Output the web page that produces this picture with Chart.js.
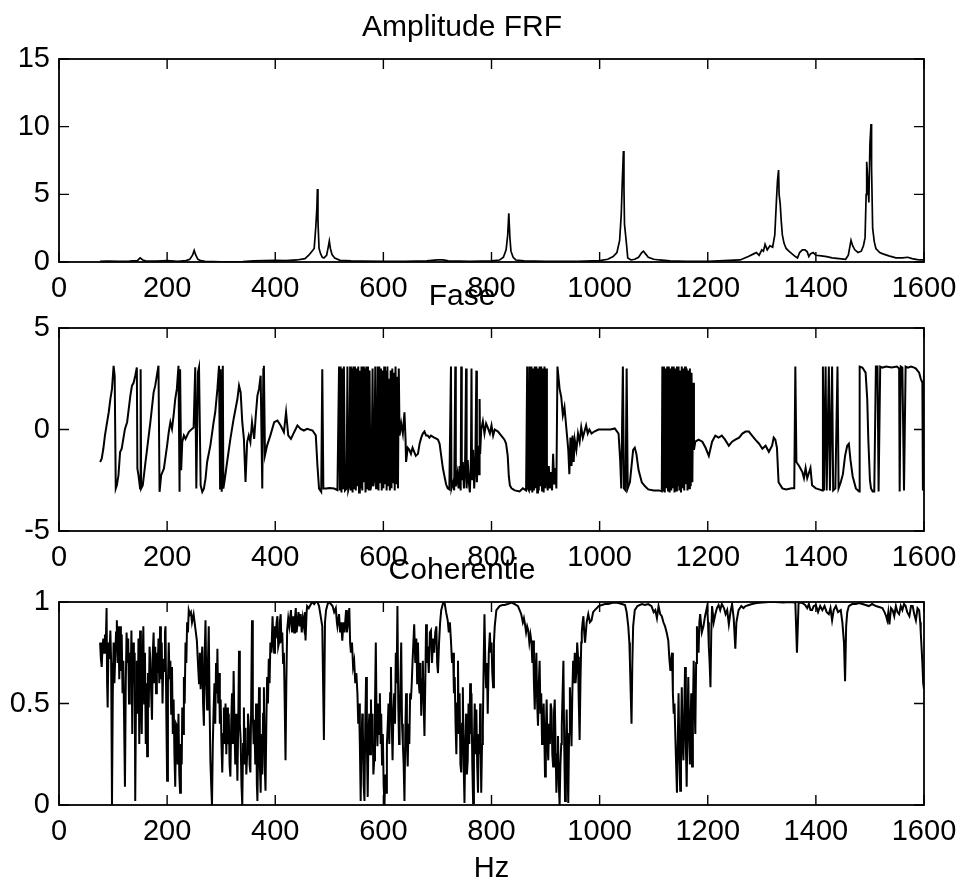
<!DOCTYPE html>
<html><head><meta charset="utf-8">
<script src="https://cdn.jsdelivr.net/npm/chart.js@4/dist/chart.umd.min.js"></script>
<style>
html,body{margin:0;padding:0;background:#fff;}
#wrap{position:relative;width:962px;height:880px;overflow:hidden;background:#fff;}
canvas{position:absolute;left:0;}
</style></head><body>
<div id="wrap">
<canvas id="c1" width="962" height="300" style="top:0px"></canvas>
<canvas id="c2" width="962" height="300" style="top:269px"></canvas>
<canvas id="c3" width="962" height="345" style="top:543px"></canvas>
</div>
<script>
const titles = ['Amplitude FRF', 'Fase', 'Coherentie'];
const xLabel = 'Hz';
const xTickValues = [0, 200, 400, 600, 800, 1000, 1200, 1400, 1600];
const ampYTicks = [0, 5, 10, 15];
const phaseYTicks = [-5, 0, 5];
const cohYTicks = [0, 0.5, 1];

const ampHz = [
76,90,110,130,145,150,155,160,180,200,
220,235,242,247,250,253,257,262,270,300,
340,360,380,400,420,440,455,462,468,472,
475,477,478,479,481,484,487,490,495,498,
500,502,505,510,520,540,560,600,640,680,
700,710,720,760,800,815,822,827,830,832,
834,836,840,845,860,900,960,1000,1015,1025,
1032,1037,1040,1042,1044,1045,1046,1048,1050,1052,
1058,1065,1072,1078,1081,1085,1090,1100,1110,1130,
1160,1200,1230,1260,1275,1285,1290,1295,1300,1303,
1306,1310,1315,1320,1324,1327,1329,1331,1332,1334,
1336,1338,1341,1345,1350,1356,1362,1366,1370,1375,
1380,1384,1387,1390,1395,1400,1410,1420,1430,1443,
1455,1460,1465,1468,1472,1478,1484,1488,1491,1493,
1494,1496,1498,1500,1502,1503,1505,1508,1511,1518,
1524,1535,1548,1560,1570,1578,1585,1592,1600];
const ampVal = [
0.05,0.06,0.05,0.07,0.1,0.3,0.15,0.08,0.06,0.1,
0.05,0.1,0.2,0.5,0.86,0.5,0.2,0.1,0.05,0.02,
0.03,0.08,0.1,0.12,0.1,0.15,0.25,0.5,0.8,1.0,
2.6,4.0,5.4,3.0,1.0,0.6,0.35,0.3,0.5,1.1,
1.55,1.0,0.55,0.3,0.12,0.08,0.06,0.05,0.05,0.08,
0.15,0.15,0.08,0.05,0.08,0.15,0.35,0.9,2.0,3.6,
1.8,0.8,0.35,0.15,0.08,0.05,0.05,0.1,0.2,0.4,
0.7,1.6,3.5,6.0,8.2,5.5,2.8,2.0,1.2,0.3,
0.15,0.2,0.35,0.7,0.8,0.6,0.35,0.2,0.15,0.08,
0.05,0.05,0.1,0.15,0.4,0.6,0.7,0.5,0.9,0.8,
1.3,0.9,1.2,1.1,2.0,4.5,6.0,6.8,5.0,4.3,
3.0,2.0,1.4,1.0,0.8,0.6,0.4,0.3,0.7,0.9,
0.9,0.75,0.4,0.6,0.7,0.5,0.45,0.4,0.3,0.25,
0.2,0.5,1.6,1.2,0.9,0.7,0.8,1.2,1.8,5.0,
7.4,6.0,4.4,8.7,10.2,7.0,2.5,1.5,1.0,0.7,
0.6,0.45,0.3,0.3,0.35,0.25,0.2,0.15,0.15];

const phaseHz = [
76,79,82,85,88,92,95,98,101,103,
105,107,110,113,116,122,126,132,135,138,
141,144,145,147,150,151,152,155,160,163,
169,175,178,181,184,186,189,194,200,203,
206,209,212,215,218,221,223,224,226,228,
231,234,240,246,249,252,254,257,259,262,
265,268,271,274,280,286,289,293,296,298,
299,301,303,304,306,311,317,323,330,333,
336,339,342,345,348,351,354,357,361,364,
367,370,373,376,378,379,381,385,391,398,
404,410,416,420,424,429,435,441,447,453,
459,469,475,478,481,485,487,489,494,500,
509,515,518,519.5,521,522.5,524,525.5,527,529,
532,533.5,535,537,538.5,540,541.5,543,544.5,546,
547.5,549,550.5,552,553.5,555,556.5,558,559.5,561,
562.5,564,565.5,567,568.5,570,571.5,573,574.5,576,
578,580,581.5,583,585,586.5,588,589.5,591,592.5,
594,595.5,597,598.5,600,601.5,603,604.5,606,607.5,
609,610.5,612,613.5,615,616.5,618,619.5,621,622.5,
624,625.5,627,628.5,630,633,636,639,641,642,
645,648,651,654,657,660,664,667,670,673,
676,679,682,685,688,694,698,701,704,707,
710,713,716,719,722,725,726,729,731,733,
734,737,739,741,743,744,745,747,749,751,
753,754,756,758,760,762,763,764,766,768,
770,772,773,775,777,778,779,781,784,787,
790,793,797,800,803,806,812,818,824,827,
830,832,834,837,843,852,858,864,866,867,
869,871,872.5,874,875.5,877,878.5,880,881.5,883,
884.5,886,887.5,889,890.5,892,893.5,895,896.5,898,
899.5,901,902.5,904,906,908,910,912,914,916,
918,920,922,926,929,932,935,939,942,944,
946,948,950,952,954,957,960,963,966,969,
972,975,978,981,985,990,998,1010,1020,1028,
1035,1038,1040,1043,1045,1048,1050,1052,1056,1059,
1062,1065,1068,1072,1078,1084,1090,1100,1110,1115,
1116,1117.5,1119,1120.5,1122,1123.5,1125,1126.5,1128,1129.5,
1131,1132.5,1134,1135.5,1137,1138.5,1140,1141.5,1143,1144.5,
1146,1147.5,1149,1150.5,1152,1153.5,1155,1156.5,1158,1159.5,
1161,1162.5,1164,1165.5,1167,1168.5,1170,1171.5,1173,1174.5,
1177,1183,1190,1196,1202,1208,1214,1220,1226,1232,
1239,1245,1251,1258,1264,1270,1276,1282,1288,1295,
1301,1307,1313,1319,1322,1325,1328,1331,1338,1345,
1355,1360,1362,1364,1369,1375,1378,1381,1384,1390,
1393,1400,1406,1412,1413,1415,1418,1420,1424,1426,
1430,1432,1436,1440,1442,1446,1450,1454,1458,1461,
1464,1468,1474,1480,1481,1486,1492,1495,1497,1500,
1502,1505,1508,1511,1514,1516,1519,1523,1530,1540,
1550,1554,1555,1557,1560,1563,1566,1570,1576,1582,
1585,1591,1594,1597,1598,1600];
const phaseVal = [
-1.6,-1.44,-0.95,-0.29,0.2,0.85,1.5,2.0,3.14,2.65,
-2.91,-2.75,-2.25,-1.11,-0.95,0.03,0.36,1.67,2.16,2.3,
2.65,3.06,-1.93,-2.25,-2.91,2.97,-2.91,-2.75,-1.6,-0.95,
0.36,1.83,2.16,2.65,3.14,-3.07,-2.25,-1.93,-0.78,-0.13,
0.36,0.03,0.69,1.5,2.0,3.14,-3.07,2.97,-2.0,-0.62,
-0.29,-0.46,-0.13,0.03,0.1,3.06,-2.91,2.81,3.06,-2.75,
-3.07,-2.91,-2.42,-1.6,-0.78,0.36,0.85,2.0,3.14,-2.91,
2.97,-3.07,3.14,-2.91,-2.58,-1.6,-0.46,0.52,1.5,2.16,
1.83,0.36,-0.46,-2.58,-0.62,-0.29,-0.62,0.36,-0.46,0.69,
1.67,2.0,2.65,-2.91,2.97,3.14,-1.27,-0.78,-0.29,0.36,
0.44,0.2,-0.13,0.85,-0.29,-0.46,-0.13,0.2,0.03,-0.05,
0.03,-0.05,-0.29,-1.76,-2.91,-3.07,2.97,-2.91,-2.91,-2.88,
-2.91,-2.99,3.1,-3.0,3.1,-3.1,3.0,-2.9,3.1,-3.0,
-2.9,3.1,-3.0,-2.8,3.1,-3.0,3.0,-3.1,3.1,-2.9,
3.1,-3.0,3.0,-2.8,3.1,-3.1,2.9,-2.9,3.1,-3.0,
3.1,-2.6,3.0,-3.1,3.1,-2.9,3.1,-3.0,2.9,-3.0,
-2.7,3.0,-2.8,-2.5,3.1,-2.9,-2.7,3.1,-3.0,3.1,
-2.6,3.0,-3.0,2.9,-2.9,3.1,-2.7,2.9,-3.0,3.1,
-2.8,2.5,-3.0,2.9,-2.9,3.0,-2.6,2.8,-3.0,3.1,
-2.7,2.6,-2.9,3.0,-0.3,0.3,-0.2,0.85,-0.5,-1.6,
-0.9,-1.0,-1.2,-0.9,-1.1,-1.3,-1.2,-0.7,-0.4,-0.2,
-0.1,-0.3,-0.3,-0.4,-0.3,-0.4,-0.45,-0.5,-0.7,-1.3,
-1.9,-2.3,-2.7,-2.9,-2.95,3.1,-2.9,-2.6,-3.0,3.1,
-2.8,-2.2,-2.9,-1.8,-3.0,3.1,-2.5,-1.6,-2.9,-2.0,
3.0,-2.9,-1.5,-2.6,-3.1,-1.4,3.0,-2.5,-1.0,-2.9,
-1.8,2.9,-2.6,-0.8,-2.2,1.5,-1.2,0.0,0.4,-0.2,
0.3,0.1,-0.2,0.2,-0.3,0.0,-0.1,-0.3,-0.5,-0.7,
-1.3,-2.3,-2.75,-2.9,-3.0,-3.05,-2.9,-3.0,3.1,-2.9,
-3.0,3.1,-3.0,3.1,-3.1,3.0,-3.0,3.1,-2.9,3.1,
-3.1,3.0,-3.0,3.1,-2.8,3.1,-3.0,3.0,-3.1,3.1,
-2.9,3.0,-2.5,-3.0,-1.8,-2.9,-2.1,-3.0,-1.2,-2.7,
-1.9,-2.9,3.1,2.0,1.6,0.7,1.1,-0.1,-1.0,-2.2,
-0.4,-1.8,-0.3,-1.6,-0.5,-1.0,-0.2,-0.6,0.1,-0.4,
-0.1,0.2,-0.2,0.0,-0.2,-0.1,0.0,0.0,0.0,0.05,
-0.2,-1.5,-2.9,3.1,-2.9,-3.0,3.0,-2.9,-2.6,-1.8,
-1.0,-0.9,-1.2,-2.0,-2.6,-2.8,-2.95,-3.0,-3.0,-3.05,
3.1,-3.0,3.1,-3.1,3.0,-2.9,3.1,-3.0,3.1,-3.1,
3.0,-3.0,3.1,-2.9,3.1,-3.1,3.0,-3.0,3.1,-2.8,
3.1,-3.0,2.9,-3.1,3.1,-2.9,3.0,-3.0,3.1,-2.7,
3.0,-3.0,2.9,-2.9,3.0,-2.8,2.8,-2.6,2.3,-1.0,
-0.6,-0.5,-0.6,-0.9,-1.3,-0.6,-0.3,-0.4,-0.3,-0.5,
-0.8,-0.6,-0.5,-0.4,-0.2,-0.1,-0.1,-0.3,-0.5,-0.7,
-0.95,-0.8,-1.1,-0.8,-0.4,-0.5,-0.9,-2.6,-2.9,-2.95,
-2.9,-2.9,3.1,-1.6,-1.8,-2.1,-2.4,-1.9,-2.4,-1.9,
-2.75,-2.9,-2.95,-3.0,3.1,-3.0,3.1,-3.0,3.1,-3.0,
3.1,-3.0,-2.9,3.1,-2.9,-2.6,-2.2,-1.3,-0.8,-0.7,
-1.5,-2.3,-2.9,-3.05,3.1,3.05,2.8,1.5,-0.5,-2.5,
-2.9,-3.05,-3.05,3.1,3.1,-3.05,3.1,3.05,3.1,3.05,
3.1,3.0,-3.05,3.1,3.05,-3.0,3.1,3.05,3.1,3.05,
3.0,2.8,2.5,2.3,-3.0,2.9];

const cohHz = [
76,77.5,79,80.5,82,83.5,85,86.5,88,89,
90,91.5,93,95,96.5,98,99.5,101,102.5,104,
105.5,107,108.5,110,111.5,113,114.5,116,117.5,119,
120.5,122,123.5,125,126.5,128,129.5,131,132.5,134,
135.5,137,138.5,140,141,142.5,144,145.5,147,148.5,
150,151.5,153,154.5,156,157.5,159,160.5,162,163,
164.5,166,167.5,169,170.5,172,173.5,175,176.5,178,
179.5,181,182.5,184,185.5,187,188.5,190,191.5,193,
194.5,196,197,198.5,200,201.5,203,204.5,206,207.5,
209,210.5,212,213.5,215,216.5,218,219.5,221,222.5,
224,225.5,227,228,229.5,231,232.5,234,235.5,237,
238.5,240,242,244,246,249,
255,257,259,260.5,262,263.5,265,266.5,268,269.5,
271,272.5,274,275.5,277,278.5,280,281.5,283,284.5,
286,287.5,289,290.5,292,293,294.5,296,297.5,299,
300.5,302,303.5,305,306.5,308,309.5,311,312.5,314,
315.5,317,318.5,320,321.5,323,324.5,326,327.5,329,
330,331.5,333,334.5,336,337.5,339,340.5,342,343.5,
345,346.5,348,349.5,351,352.5,354,355.5,357,358.5,
360,361.5,363,364.5,366,367,368.5,370,371.5,373,
374.5,376,377.5,379,380.5,382,383.5,385,386.5,388,
389.5,391,393,395,396.5,398,399.5,401,402.5,404,
405.5,407,408.5,410,411.5,413,414.5,416,417.5,419,
420.5,
422,424,426,429,431,433,435,436.5,438,439.5,
441,443,445,447,449,451,453,455,456,458,
459,462,466,469,472,475,478,481,484,487,
490,492,494,497,500,503,506,509,512,514,
515,518,520,522,524,526,528,531,532.5,534,
537,538.5,
540,542,544,546,548,550,552,553.5,555,556.5,
558,559.5,561,562,563.5,565,566.5,568,569.5,571,
572.5,574,575.5,577,578.5,580,581.5,583,584.5,586,
587.5,589,590.5,592,593.5,595,596,597.5,599,600.5,
602,603.5,605,606.5,608,609.5,611,612.5,614,615.5,
617,618.5,620,621.5,623,624.5,626,627.5,629,630,
631.5,633,634.5,636,637.5,639,640.5,642,643.5,645,
646.5,648,649.5,651,652.5,654,
657,659,661,662.5,664,665.5,667,668.5,670,671.5,
673,674.5,676,677.5,679,680.5,682,684,686,688,
690,692,694,696,698,699.5,701,703,705,707,
710,713,716,719,721,723,725,727,729,730.5,
732,733.5,735,736.5,738,739.5,741,742.5,744,745.5,
747,748.5,750,751.5,753,754.5,756,757.5,759,760.5,
762,763,764.5,766,767.5,769,770.5,772,773.5,775,
776.5,778,779,780,781,782.5,784,785.5,787,788.5,
790,791.5,793,795,797,798.5,800,801.5,803,804.5,
806,809,
812,815,820,824,830,837,843,849,852,855,
858,860,862,864,866,868,870,872,874,875.5,
877,878.5,880,881.5,883,884.5,886,887.5,889,890.5,
892,893.5,895,896.5,898,899,900.5,902,903.5,905,
906.5,908,909.5,911,912.5,914,915.5,917,918.5,920,
921.5,923,924.5,926,927.5,929,930,931.5,933,934.5,
936,937.5,939,940.5,942,943.5,945,946.5,948,949.5,
951,952.5,954,955.5,957,958.5,960,961.5,963,964.5,
966,967,968.5,970,971.5,973,976,
979,982,985,988,991,995,998,1004,1010,1016,
1022,1028,1035,1041,1047,1050,1053,1055,1056,1057.5,
1059,1060.5,1062,1065,1070,1078,1084,1090,1096,1100,
1103,1106,1109,1112,1115,1118,
1121,1124,1127,1129,1131,1132.5,1134,1135.5,1137,1138.5,
1140,1141.5,1143,1144.5,1146,1147.5,1149,1150.5,1152,1153.5,
1155,1156.5,1158,1159.5,1161,1162.5,1164,1165.5,1167,1168,
1169.5,1171,1172.5,1174,1175.5,1177,1178.5,1180,1181.5,1183,
1184.5,1186,1189,
1192,1195,1199,1200.5,1202,1203.5,1205,1206.5,1208,1211,
1214,1217,1220,1223,1226,1230,1233,1236,1239,1242,
1245,1248,1251,1253,1257,1262,1266,1270,1276,1282,
1290,1301,1313,1325,
1340,1350,1362,1365,1368,1375,1380,1384,1387,1390,
1393,1396,1400,1404,1408,1412,1416,1420,1424,1427,
1430,1433,1437,1441,1446,1449,1452,1454,1456,1458,
1461,1467,1474,1480,1486,1492,1498,1504,1511,1517,
1523,1527,1530,1532,1534,1536,1539,1542,1545,1548,
1551,1554,1557,1560,1563,1566,1569,1573,1576,1579,
1582,1585,1588,1591,1593,1594,1596,1597,1598.5,1600];
const cohVal = [
0.80,0.72,0.68,0.78,0.82,0.75,0.84,0.79,0.97,0.6,
0.48,0.8,0.72,0.86,0.7,0.0,0.55,0.80,0.6,0.73,
0.85,0.91,0.7,0.88,0.62,0.88,0.66,0.84,0.55,0.71,
0.4,0.09,0.6,0.85,0.7,0.82,0.5,0.75,0.62,0.86,
0.35,0.8,0.6,0.75,0.02,0.55,0.71,0.45,0.82,0.3,
0.86,0.55,0.35,0.7,0.88,0.5,0.75,0.3,0.6,0.24,
0.65,0.48,0.78,0.71,0.55,0.42,0.75,0.85,0.6,0.78,
0.55,0.75,0.65,0.82,0.6,0.88,0.62,0.8,0.5,0.72,
0.66,0.85,0.88,0.45,0.12,0.6,0.80,0.62,0.71,0.45,
0.68,0.35,0.52,0.25,0.09,0.4,0.39,0.2,0.45,0.15,
0.06,0.3,0.2,0.48,0.35,0.63,0.5,0.80,0.7,0.9,
0.85,0.96,0.94,0.95,0.9,0.94,
0.81,0.7,0.6,0.75,0.57,0.7,0.78,0.5,0.39,0.75,
0.91,0.6,0.47,0.7,0.88,0.5,0.22,0.1,0.0,0.3,
0.47,0.6,0.4,0.7,0.55,0.77,0.5,0.65,0.4,0.52,
0.3,0.16,0.35,0.48,0.3,0.5,0.25,0.48,0.3,0.45,
0.2,0.14,0.4,0.55,0.3,0.66,0.4,0.2,0.45,0.25,
0.12,0.4,0.76,0.4,0.32,0.1,0.0,0.3,0.48,0.2,
0.38,0.15,0.25,0.45,0.39,0.2,0.16,0.5,0.91,0.45,
0.3,0.42,0.2,0.5,0.1,0.02,0.3,0.58,0.2,0.06,
0.35,0.15,0.45,0.58,0.2,0.07,0.4,0.63,0.5,0.72,
0.6,0.80,0.75,0.93,0.8,0.75,0.88,0.82,0.9,0.93,
0.78,0.80,0.9,0.94,0.8,0.85,0.7,0.75,0.5,0.22,
0.6,
0.86,0.92,0.88,0.96,0.85,0.93,0.85,0.92,0.97,0.85,
0.89,0.95,0.88,0.94,0.85,0.92,0.88,0.95,0.81,0.95,
0.98,0.97,0.99,1.0,0.99,1.0,1.00,0.98,0.93,0.88,
0.32,0.9,0.96,0.99,1.00,0.99,0.98,0.95,0.97,0.9,
0.88,0.94,0.85,0.9,0.81,0.9,0.85,0.96,0.85,0.88,
0.97,0.8,
0.75,0.8,0.68,0.71,0.6,0.65,0.55,0.4,0.5,0.3,
0.02,0.3,0.45,0.39,0.1,0.02,0.4,0.63,0.3,0.04,
0.35,0.45,0.25,0.52,0.3,0.45,0.15,0.22,0.5,0.80,
0.4,0.29,0.5,0.35,0.55,0.3,0.45,0.2,0.35,0.1,
0.0,0.15,0.06,0.3,0.39,0.5,0.3,0.55,0.68,0.4,
0.22,0.45,0.55,0.4,0.75,0.6,0.98,0.5,0.3,0.39,
0.6,0.80,0.4,0.3,0.2,0.02,0.35,0.55,0.3,0.19,
0.4,0.3,0.55,0.52,0.6,0.71,
0.89,0.7,0.82,0.6,0.80,0.6,0.55,0.7,0.44,0.62,
0.71,0.5,0.34,0.6,0.89,0.7,0.78,0.65,0.85,0.86,
0.7,0.82,0.75,0.85,0.88,0.7,0.65,0.8,0.9,0.96,
0.99,1.0,0.95,0.91,0.85,0.9,0.81,0.7,0.75,0.55,
0.63,0.4,0.25,0.5,0.71,0.35,0.55,0.2,0.16,0.4,
0.58,0.2,0.01,0.3,0.45,0.15,0.22,0.5,0.3,0.6,
0.35,0.55,0.2,0.01,0.3,0.5,0.25,0.47,0.2,0.06,
0.35,0.25,0.50,0.3,0.06,0.3,0.39,0.7,0.94,0.7,
0.58,0.7,0.45,0.75,0.85,0.75,0.80,0.65,0.58,0.8,
0.88,0.96,
0.97,0.98,0.985,0.985,0.99,0.997,0.99,0.98,0.96,0.94,
0.9,0.92,0.89,0.85,0.88,0.86,0.8,0.84,0.80,0.7,
0.81,0.6,0.47,0.65,0.75,0.5,0.39,0.6,0.71,0.45,
0.55,0.3,0.39,0.5,0.3,0.14,0.35,0.52,0.3,0.22,
0.4,0.3,0.5,0.47,0.25,0.19,0.45,0.52,0.3,0.06,
0.25,0.34,0.1,0.0,0.2,0.3,0.39,0.55,0.71,0.3,
0.02,0.25,0.47,0.2,0.01,0.35,0.58,0.45,0.29,0.55,
0.71,0.6,0.75,0.6,0.66,0.8,0.73,0.5,0.32,0.6,
0.8,0.85,0.9,0.93,0.85,0.80,0.9,
0.94,0.9,0.91,0.95,0.96,0.97,0.98,0.985,0.99,0.99,
0.995,0.997,0.995,0.99,0.985,0.95,0.88,0.8,0.71,0.55,
0.40,0.7,0.88,0.96,0.98,0.99,0.985,0.99,0.98,0.95,
0.96,0.92,0.98,0.94,0.93,0.9,
0.88,0.85,0.81,0.72,0.66,0.72,0.75,0.55,0.45,0.5,
0.34,0.2,0.06,0.3,0.55,0.25,0.07,0.35,0.58,0.3,
0.22,0.45,0.68,0.3,0.09,0.4,0.63,0.35,0.2,0.39,
0.55,0.19,0.45,0.71,0.5,0.35,0.7,0.88,0.8,0.75,
0.9,0.94,0.85,
0.88,0.93,0.98,0.9,0.78,0.7,0.58,0.85,0.98,0.9,
0.94,0.97,0.985,0.96,0.99,0.97,0.94,0.96,0.89,0.95,
0.99,0.92,0.77,0.9,0.96,0.98,0.97,0.98,0.985,0.99,
0.995,0.997,1.0,1.00,
0.998,1.0,0.997,0.75,0.997,0.995,0.985,0.97,0.99,0.96,
0.96,0.98,0.985,0.95,0.98,0.96,0.98,0.95,0.94,0.97,
0.91,0.96,0.98,0.95,0.96,0.9,0.80,0.61,0.88,0.95,
0.98,0.99,0.99,0.995,0.99,0.985,0.98,0.99,0.98,0.975,
0.97,0.95,0.93,0.91,0.95,0.89,0.97,0.96,0.93,0.98,
0.95,0.94,0.98,0.96,0.99,0.98,0.95,0.93,0.98,0.98,
0.94,0.91,0.97,0.96,0.9,0.85,0.75,0.70,0.6,0.57];

const FONT = '"Liberation Sans", Arial, Helvetica, sans-serif';

const framePlugin = {
  id: 'frame',
  afterDraw(chart) {
    const {ctx, chartArea: a, scales: {x, y}} = chart;
    ctx.save();
    ctx.strokeStyle = '#000';
    ctx.lineWidth = 1.8;
    ctx.strokeRect(a.left, a.top, a.right - a.left, a.bottom - a.top);
    ctx.lineWidth = 1.4;
    ctx.beginPath();
    const L = 10;
    x.ticks.forEach(t => {
      const px = x.getPixelForValue(t.value);
      ctx.moveTo(px, a.bottom); ctx.lineTo(px, a.bottom - L);
      ctx.moveTo(px, a.top); ctx.lineTo(px, a.top + L);
    });
    y.ticks.forEach(t => {
      const py = y.getPixelForValue(t.value);
      ctx.moveTo(a.left, py); ctx.lineTo(a.left + L, py);
      ctx.moveTo(a.right, py); ctx.lineTo(a.right - L, py);
    });
    ctx.stroke();
    ctx.restore();
  }
};

function makeChart(id, title, hz, vals, yTicks, showX, lw) {
  const el = document.getElementById(id);
  const H = el.height;
  return new Chart(el, {
    type: 'line',
    data: { datasets: [{
      data: hz.map((h, i) => ({x: h, y: vals[i]})),
      borderColor: '#000', borderWidth: lw, pointRadius: 0, tension: 0, fill: false
    }]},
    options: {
      responsive: false, animation: false, devicePixelRatio: 1,
      layout: {padding: {left: 0, right: 38, top: 0, bottom: 0}},
      plugins: {
        legend: {display: false}, tooltip: {enabled: false},
        title: {display: true, text: title, color: '#000',
          font: {family: FONT, size: 30, weight: 'normal', lineHeight: 1.2},
          padding: {top: 9.4, bottom: 13.6}}
      },
      scales: {
        x: {
          type: 'linear', min: xTickValues[0], max: xTickValues[xTickValues.length - 1],
          grid: {display: false, drawTicks: false}, border: {display: false},
          afterBuildTicks: s => { s.ticks = xTickValues.map(v => ({value: v})); },
          ticks: {color: '#000', font: {family: FONT, size: 29, lineHeight: 1.2}, padding: 10,
            maxRotation: 0, minRotation: 0, autoSkip: false, callback: v => String(v)},
          title: showX ? {display: true, text: xLabel, color: '#000',
            font: {family: FONT, size: 29, lineHeight: 1.2}, padding: {top: 0, bottom: 1.8}} : {display: false},
          afterFit: s => { s.height = H - 262; s.paddingLeft = 0; s.paddingRight = 0; }
        },
        y: {
          min: yTicks[0], max: yTicks[yTicks.length - 1],
          grid: {display: false, drawTicks: false}, border: {display: false},
          afterBuildTicks: s => { s.ticks = yTicks.map(v => ({value: v})); },
          ticks: {color: '#000', font: {family: FONT, size: 29, lineHeight: 1.2}, padding: 9, callback: v => String(v)},
          afterFit: s => { s.width = 59; s.paddingTop = 0; s.paddingBottom = 0; }
        }
      }
    },
    plugins: [framePlugin]
  });
}

makeChart('c1', titles[0], ampHz, ampVal, ampYTicks, false, 1.7);
makeChart('c2', titles[1], phaseHz, phaseVal, phaseYTicks, false, 2);
makeChart('c3', titles[2], cohHz, cohVal, cohYTicks, true, 2);
</script>
</body></html>
